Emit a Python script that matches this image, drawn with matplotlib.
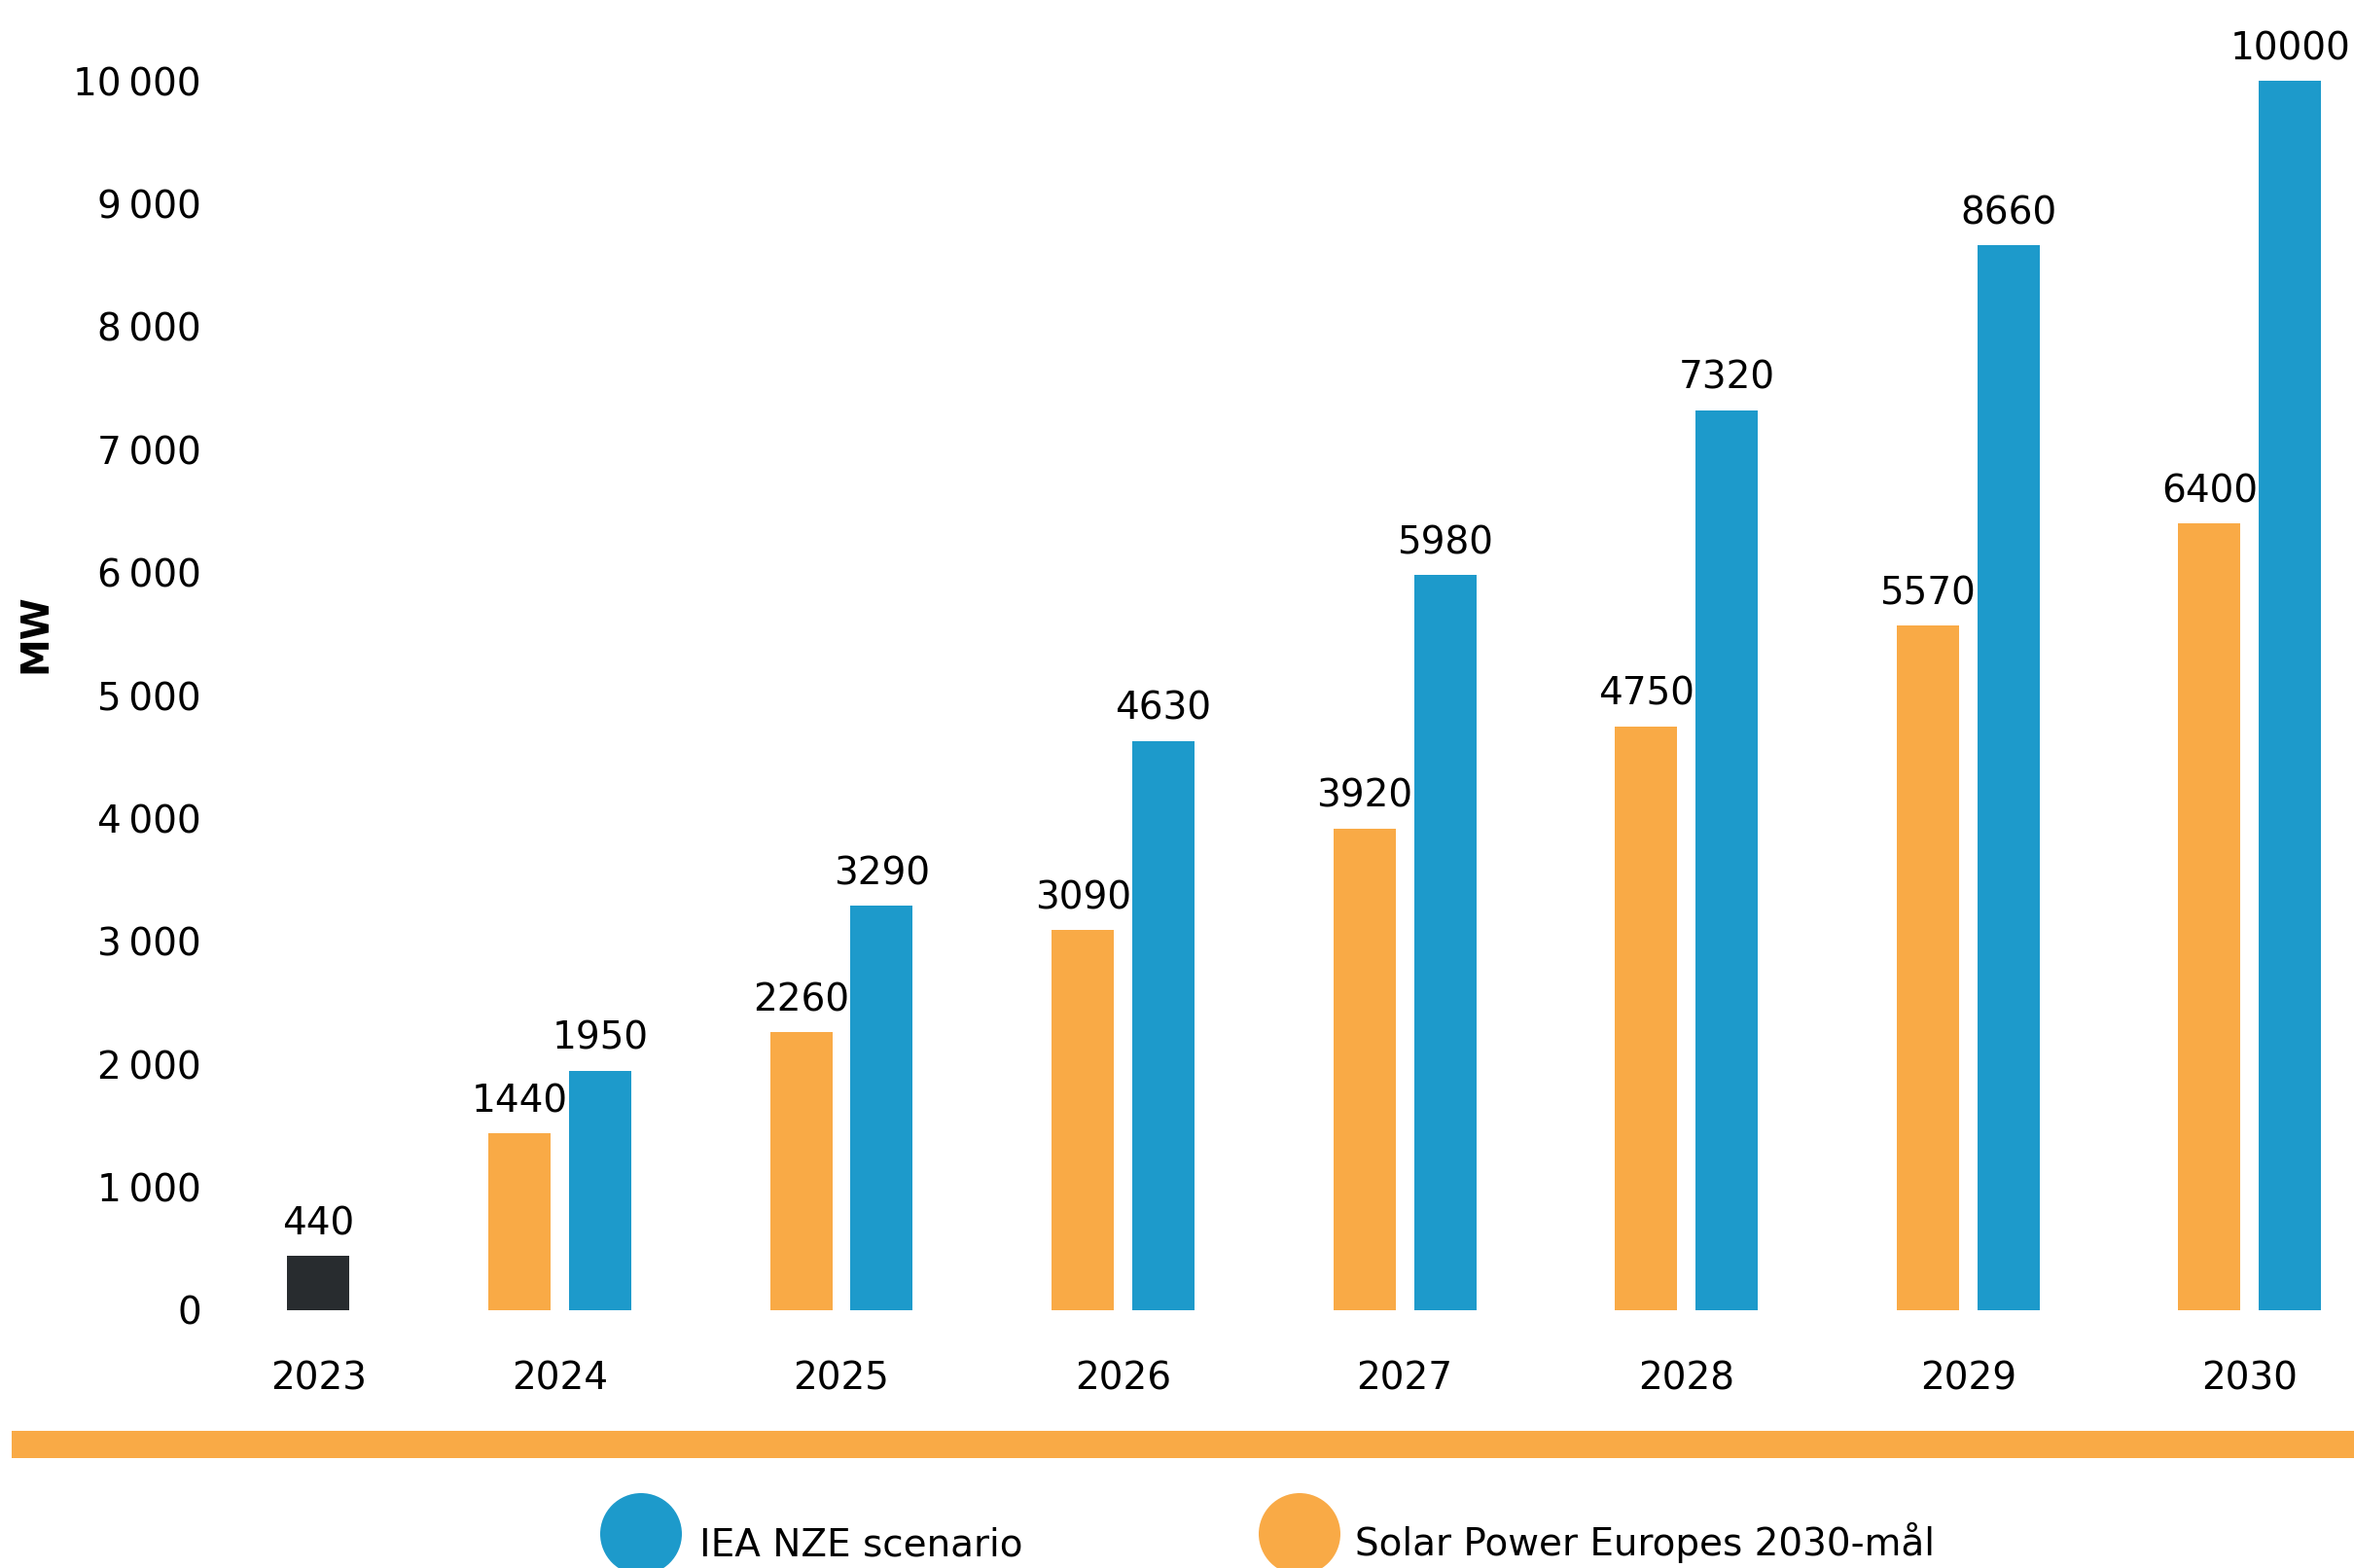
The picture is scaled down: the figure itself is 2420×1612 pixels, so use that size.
import numpy as np
import matplotlib
matplotlib.use("Agg")
import matplotlib.pyplot as plt
from matplotlib.patches import Circle, Rectangle

# data
years = ['2023', '2024', '2025', '2026', '2027', '2028', '2029', '2030']
actual_2023 = 440
spe_target = [1440, 2260, 3090, 3920, 4750, 5570, 6400]      # Solar Power Europe
iea_nze = [1950, 3290, 4630, 5980, 7320, 8660, 10000]        # IEA NZE
y_ticks = [0, 1000, 2000, 3000, 4000, 5000, 6000, 7000, 8000, 9000, 10000]

ORANGE = '#F9AA46'
BLUE = '#1D9ACB'
DARK = '#282C2F'

plt.rcParams['font.family'] = ['DejaVu Sans']
FS = 28

W, H = 2420, 1612
fig = plt.figure(figsize=(W / 100, H / 100), dpi=100)
ax = fig.add_axes([250 / W, 265 / H, (W - 250) / W, (H - 265) / H])

x = np.arange(len(years), dtype=float)
x[0] += 0.143
width = 0.221
off = 0.143

b0 = ax.bar(x[0], actual_2023, width, color=DARK)
b1 = ax.bar(x[1:] - off, spe_target, width, color=ORANGE)
b2 = ax.bar(x[1:] + off, iea_nze, width, color=BLUE)

for bars in (b0, b1, b2):
    ax.bar_label(bars, labels=[str(int(v)) for v in bars.datavalues],
                 padding=10, fontsize=FS, color='black')

ax.set_xlim(-0.124, 7.37)
ax.set_ylim(0, 10657)
ax.set_xticks(x)
ax.set_xticklabels(years, fontsize=FS)
ax.set_yticks(y_ticks)
ax.set_yticklabels([f'{v:,}'.replace(',', '\u2009') for v in y_ticks], fontsize=FS)
ax.tick_params(axis='x', length=0, pad=37)
ax.tick_params(axis='y', length=0, pad=31)
for s in ax.spines.values():
    s.set_visible(False)

fig.text(36 / W, 1 - 651 / H, 'MW', rotation=90, fontsize=FS, fontweight='bold',
         ha='center', va='center')

# orange divider band
fig.add_artist(Rectangle((12 / W, 113 / H), (W - 12) / W, 28 / H,
                         transform=fig.transFigure, color=ORANGE, lw=0))

# legend
for cx, col, label, tx in [(659, BLUE, 'IEA NZE scenario', 719),
                           (1336, ORANGE, 'Solar Power Europes 2030-mål', 1393)]:
    fig.add_artist(Circle((cx / 100, 35 / 100), 0.42, transform=fig.dpi_scale_trans,
                          color=col, lw=0))
    fig.text(tx / W, 13 / H, label, fontsize=FS, ha='left', va='baseline')

fig.savefig('out.png', dpi=100)
